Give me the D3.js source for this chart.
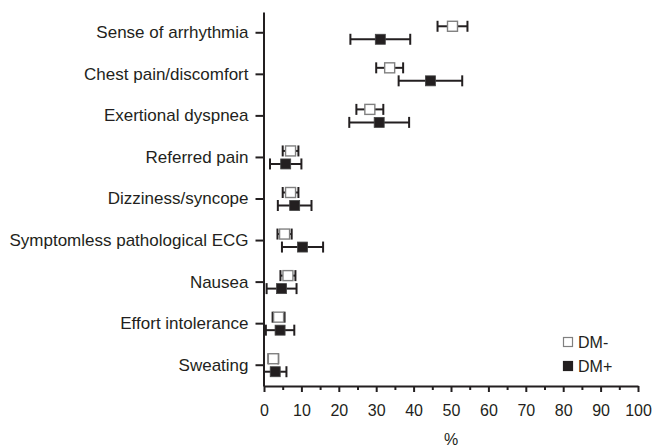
<!DOCTYPE html>
<html><head><meta charset="utf-8">
<script src="https://cdn.jsdelivr.net/npm/d3@7"></script>
<style>body{margin:0;background:#fff}svg{display:block}text{font-family:"Liberation Sans",Arial,sans-serif;fill:#231f20}</style>
</head><body><svg id="c" width="652" height="447"></svg>
<script>
const categories = ["Sense of arrhythmia","Chest pain/discomfort","Exertional dyspnea","Referred pain","Dizziness/syncope","Symptomless pathological ECG","Nausea","Effort intolerance","Sweating"];
const dmMinus = [50.4, 33.6, 28.3, 7.1, 7.1, 5.5, 6.4, 3.9, 2.5];
const dmMinusErr = [4.0, 3.6, 3.6, 2.1, 2.1, 1.9, 2.0, 1.6, 1.3];
const dmPlus = [31.1, 44.5, 30.8, 5.8, 8.2, 10.3, 4.7, 4.3, 3.0];
const dmPlusErr = [8.0, 8.5, 8.0, 4.2, 4.5, 5.5, 4.0, 3.8, 3.0];
const xTicks = [0,10,20,30,40,50,60,70,80,90,100];
const seriesNames = ["DM-","DM+"];

const ink = "#231f20";
const svg = d3.select("#c");
const x = d3.scaleLinear().domain([0,100]).range([264,638]);
const y = d3.scaleBand().domain(categories).range([12,386]);
const yc = c => y(c) + y.bandwidth()/2;

// axes
const gy = svg.append("g").attr("transform","translate(263.5,0)")
  .call(d3.axisLeft(y).tickSize(8).tickPadding(7).tickSizeOuter(0));
gy.select(".domain").attr("stroke",ink).attr("stroke-width",2);
gy.selectAll(".tick line").attr("stroke",ink).attr("stroke-width",2);
gy.selectAll(".tick text").attr("font-size",17).attr("fill",ink).style("font-family",'"Liberation Sans",Arial,sans-serif');

const minor = d3.range(5,100,10);
const gxm = svg.append("g").attr("transform","translate(0,386)")
  .call(d3.axisBottom(x).tickValues(minor).tickSize(4).tickFormat(""));
gxm.select(".domain").remove();
gxm.selectAll(".tick line").attr("stroke",ink).attr("stroke-width",2);
const gx = svg.append("g").attr("transform","translate(0,386)")
  .call(d3.axisBottom(x).tickValues(xTicks).tickSize(6).tickPadding(13).tickSizeOuter(0));
gx.select(".domain").attr("stroke",ink).attr("stroke-width",2);
gx.selectAll(".tick line").attr("stroke",ink).attr("stroke-width",2);
gx.selectAll(".tick text").attr("font-size",16).attr("fill",ink).style("font-family",'"Liberation Sans",Arial,sans-serif');
svg.append("text").attr("x",x(50)).attr("y",445).attr("text-anchor","middle").attr("font-size",16).text("%");

function series(vals, errs, off, filled){
  const g = svg.append("g");
  categories.forEach((c,i)=>{
    const cy = yc(c)+off, lo = x(Math.max(0,vals[i]-errs[i])), hi = x(vals[i]+errs[i]);
    g.append("line").attr("x1",lo).attr("x2",hi).attr("y1",cy).attr("y2",cy).attr("stroke",ink).attr("stroke-width",2);
    [lo,hi].forEach(xx=>g.append("line").attr("x1",xx).attr("x2",xx).attr("y1",cy-5.5).attr("y2",cy+5.5).attr("stroke",ink).attr("stroke-width",2));
    g.append("rect").attr("x",x(vals[i])-5).attr("y",cy-5).attr("width",10).attr("height",10)
      .attr("fill",filled?ink:"#fff").attr("stroke",filled?"#444":"#808080").attr("stroke-width",filled?0.8:1.4);
  });
}
series(dmMinus, dmMinusErr, -6.5, false);
series(dmPlus, dmPlusErr, 6.5, true);

// legend
const lg = svg.append("g");
seriesNames.forEach((n,i)=>{
  const yy = 337 + i*24;
  lg.append("rect").attr("x",563.5).attr("y",yy+0.5).attr("width",9).attr("height",9)
    .attr("fill",i?ink:"#fff").attr("stroke",i?ink:"#808080").attr("stroke-width",1.2);
  lg.append("text").attr("x",578).attr("y",yy+10.5).attr("font-size",16).text(n);
});
</script></body></html>
